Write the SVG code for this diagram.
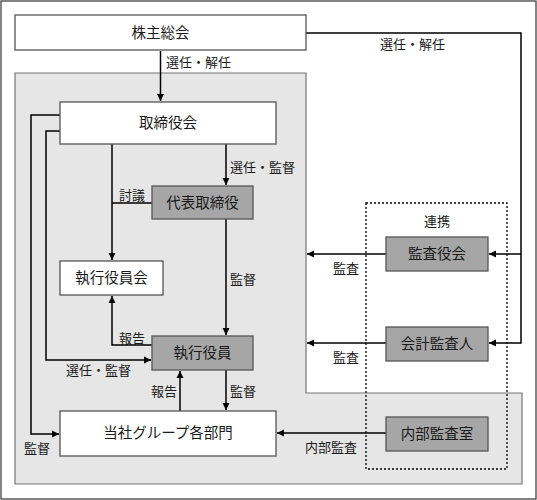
<svg xmlns="http://www.w3.org/2000/svg" width="537" height="500" viewBox="0 0 537 500">
<style>
text{font-family:"Noto Sans CJK JP","Noto Sans CJK SC",sans-serif;fill:#1a1a1a}
.bt{font-size:14.5px;text-anchor:middle}
.lb{font-size:13px}
.w{fill:#fff;stroke:#555;stroke-width:1.3}
.d{fill:#a6a6a6;stroke:#555;stroke-width:1.3}
.c{fill:none;stroke:#000;stroke-width:1.5}
</style>
<defs>
<marker id="a" viewBox="0 0 10 10" refX="10" refY="5" markerWidth="7" markerHeight="8" orient="auto" markerUnits="userSpaceOnUse">
<path d="M0,0 L10,5 L0,10 Z" fill="#000"/>
</marker>
</defs>
<rect x="1" y="1" width="535" height="498" fill="#fff" stroke="#333" stroke-width="1.2"/>
<path d="M15,73 H306 V393 H522 V484 H15 Z" fill="#e6e6e6" stroke="#777" stroke-width="1.2"/>
<rect x="366" y="203" width="141" height="266" fill="none" stroke="#000" stroke-width="1.3" stroke-dasharray="2,2"/>
<g id="connectors">
<path class="c" d="M160.5,51 V101" marker-end="url(#a)"/>
<path class="c" d="M306,33 H521 V343 H489" marker-end="url(#a)"/>
<path class="c" d="M521,254 H489" marker-end="url(#a)"/>
<path class="c" d="M386,254 H307" marker-end="url(#a)"/>
<path class="c" d="M386,343 H307" marker-end="url(#a)"/>
<path class="c" d="M386,433 H277" marker-end="url(#a)"/>
<path class="c" d="M226,144 V185" marker-end="url(#a)"/>
<path class="c" d="M112,144 V260" marker-end="url(#a)"/>
<path class="c" d="M152,203 H112"/>
<path class="c" d="M226,219 V335" marker-end="url(#a)"/>
<path class="c" d="M152,345 H112 V296" marker-end="url(#a)"/>
<path class="c" d="M60,115 H31 V434 H59" marker-end="url(#a)"/>
<path class="c" d="M60,131 H46 V360 H151" marker-end="url(#a)"/>
<path class="c" d="M180,411 V371" marker-end="url(#a)"/>
<path class="c" d="M226,370 V410" marker-end="url(#a)"/>
</g>
<g id="kabunushi"><rect class="w" x="15" y="15" width="291" height="35"/><text class="bt" x="160.5" y="38">株主総会</text></g>
<g id="torishimariyakukai"><rect class="w" x="60" y="102" width="216" height="42"/><text class="bt" x="168" y="128">取締役会</text></g>
<g id="daihyo"><rect class="d" x="152" y="186" width="101" height="33"/><text class="bt" x="202.5" y="208">代表取締役</text></g>
<g id="shikkoyakuinkai"><rect class="w" x="60" y="261" width="103" height="34"/><text class="bt" x="111.5" y="283">執行役員会</text></g>
<g id="shikkoyakuin"><rect class="d" x="152" y="336" width="101" height="34"/><text class="bt" x="202.5" y="358">執行役員</text></g>
<g id="group"><rect class="w" x="60" y="411" width="216" height="45"/><text class="bt" x="168" y="438">当社グループ各部門</text></g>
<g id="kansayakukai"><rect class="d" x="386" y="237" width="102" height="34"/><text class="bt" x="437" y="259">監査役会</text></g>
<g id="kaikei"><rect class="d" x="386" y="327" width="102" height="34"/><text class="bt" x="437" y="349">会計監査人</text></g>
<g id="naibu"><rect class="d" x="386" y="417" width="102" height="34"/><text class="bt" x="437" y="439">内部監査室</text></g>
<g id="labels">
<text class="lb" x="166" y="67">選任・解任</text>
<text class="lb" x="380" y="49">選任・解任</text>
<text class="lb" x="437" y="226" text-anchor="middle">連携</text>
<text class="lb" x="230" y="172">選任・監督</text>
<text class="lb" x="119" y="200">討議</text>
<text class="lb" x="230" y="284">監督</text>
<text class="lb" x="333" y="273">監査</text>
<text class="lb" x="333" y="362">監査</text>
<text class="lb" x="119" y="343">報告</text>
<text class="lb" x="66" y="375">選任・監督</text>
<text class="lb" x="151" y="396">報告</text>
<text class="lb" x="230" y="396">監督</text>
<text class="lb" x="24" y="453">監督</text>
<text class="lb" x="305" y="452">内部監査</text>
</g>
</svg>
